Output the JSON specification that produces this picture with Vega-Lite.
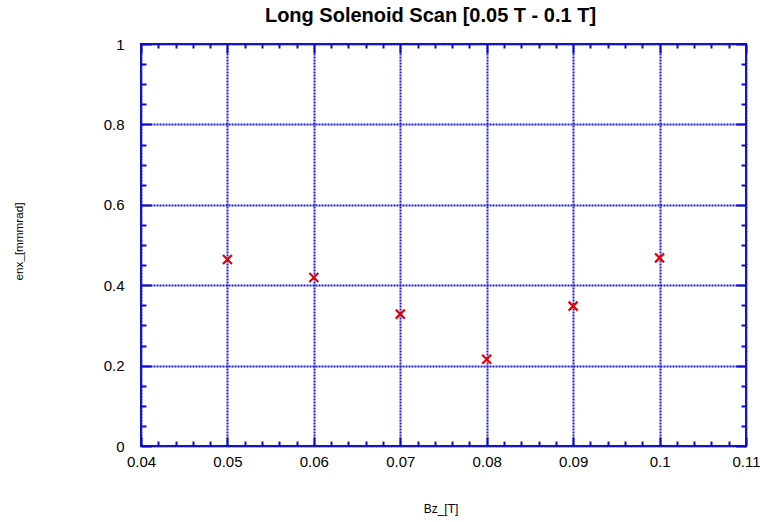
{
  "$schema": "https://vega.github.io/schema/vega-lite/v6.json",
  "width": 605,
  "height": 402,
  "autosize": "none",
  "padding": {"left": 141, "top": 44, "right": 14, "bottom": 76},
  "background": "white",
  "title": {
    "text": "Long Solenoid Scan [0.05 T - 0.1 T]",
    "font": "Liberation Sans",
    "fontSize": 20,
    "fontWeight": "bold",
    "color": "black",
    "anchor": "middle",
    "offset": 11,
    "dx": -13
  },
  "config": {
    "view": {"stroke": "#0a0acc", "strokeWidth": 2},
    "axis": {
      "labelFont": "Liberation Sans",
      "titleFont": "Liberation Sans",
      "labelColor": "black",
      "titleColor": "black",
      "titleFontWeight": "normal",
      "labelFlush": false,
      "domain": false,
      "tickColor": "#0a0acc",
      "tickWidth": 2,
      "gridColor": "#1c1cd4",
      "gridOpacity": 1,
      "gridWidth": 2,
      "gridDash": [2, 1]
    }
  },
  "data": {
    "values": [
      {"Bz": 0.05, "enx": 0.464},
      {"Bz": 0.06, "enx": 0.419},
      {"Bz": 0.07, "enx": 0.328},
      {"Bz": 0.08, "enx": 0.216},
      {"Bz": 0.09, "enx": 0.348},
      {"Bz": 0.1, "enx": 0.468}
    ]
  },
  "layer": [
    {
      "mark": {"type": "point", "opacity": 0},
      "encoding": {
        "x": {"field": "Bz", "type": "quantitative", "scale": {"domain": [0.04, 0.11], "nice": false, "zero": false},
          "axis": {"orient": "top", "labels": false, "title": null, "grid": false, "tickSize": -9,
            "values": [0.04, 0.05, 0.06, 0.07, 0.08, 0.09, 0.1, 0.11]}},
        "y": {"field": "enx", "type": "quantitative", "scale": {"domain": [0, 1], "nice": false},
          "axis": {"orient": "right", "labels": false, "title": null, "grid": false, "tickSize": -10,
            "values": [0, 0.2, 0.4, 0.6, 0.8, 1]}}
      }
    },
    {
      "mark": {"type": "point", "opacity": 0},
      "encoding": {
        "x": {"field": "Bz", "type": "quantitative", "scale": {"domain": [0.04, 0.11], "nice": false, "zero": false},
          "axis": {"orient": "bottom", "labels": false, "title": null, "grid": false, "tickSize": -9,
            "values": [0.04, 0.05, 0.06, 0.07, 0.08, 0.09, 0.1, 0.11]}},
        "y": {"field": "enx", "type": "quantitative", "scale": {"domain": [0, 1], "nice": false},
          "axis": {"orient": "left", "labels": false, "title": null, "grid": false, "tickSize": -10,
            "values": [0, 0.2, 0.4, 0.6, 0.8, 1]}}
      }
    },
    {
      "mark": {"type": "point", "opacity": 0},
      "encoding": {
        "x": {"field": "Bz", "type": "quantitative", "scale": {"domain": [0.04, 0.11], "nice": false, "zero": false},
          "axis": {"orient": "bottom", "labels": false, "title": null, "grid": false, "tickSize": -5,
            "values": [0.042, 0.044, 0.046, 0.048, 0.052, 0.054, 0.056, 0.058, 0.062, 0.064, 0.066, 0.068, 0.072, 0.074, 0.076, 0.078, 0.082, 0.084, 0.086, 0.088, 0.092, 0.094, 0.096, 0.098, 0.102, 0.104, 0.106, 0.108]}},
        "y": {"field": "enx", "type": "quantitative", "scale": {"domain": [0, 1], "nice": false},
          "axis": {"orient": "left", "labels": false, "title": null, "grid": false, "tickSize": -5,
            "values": [0.05, 0.1, 0.15, 0.25, 0.3, 0.35, 0.45, 0.5, 0.55, 0.65, 0.7, 0.75, 0.85, 0.9, 0.95]}}
      }
    },
    {
      "mark": {"type": "point", "opacity": 0},
      "encoding": {
        "x": {"field": "Bz", "type": "quantitative", "scale": {"domain": [0.04, 0.11], "nice": false, "zero": false},
          "axis": {"orient": "top", "labels": false, "title": null, "grid": false, "tickSize": -4,
            "values": [0.042, 0.044, 0.046, 0.048, 0.052, 0.054, 0.056, 0.058, 0.062, 0.064, 0.066, 0.068, 0.072, 0.074, 0.076, 0.078, 0.082, 0.084, 0.086, 0.088, 0.092, 0.094, 0.096, 0.098, 0.102, 0.104, 0.106, 0.108]}},
        "y": {"field": "enx", "type": "quantitative", "scale": {"domain": [0, 1], "nice": false},
          "axis": {"orient": "right", "labels": false, "title": null, "grid": false, "tickSize": -5,
            "values": [0.05, 0.1, 0.15, 0.25, 0.3, 0.35, 0.45, 0.5, 0.55, 0.65, 0.7, 0.75, 0.85, 0.9, 0.95]}}
      }
    },
    {
      "mark": {"type": "point", "shape": "M-1,-1L1,1M1,-1L-1,1", "filled": false, "color": "#e0000c", "strokeWidth": 2.2, "size": 81, "opacity": 1},
      "encoding": {
        "x": {"field": "Bz", "type": "quantitative", "scale": {"domain": [0.04, 0.11], "nice": false, "zero": false},
          "axis": {"orient": "bottom", "title": "Bz_[T]", "titleFontSize": 12, "titleX": 299.5, "titleY": 62, "titleBaseline": "middle",
            "labelFontSize": 15, "labelPadding": 8, "ticks": false, "grid": true, "format": "~g",
            "values": [0.04, 0.05, 0.06, 0.07, 0.08, 0.09, 0.1, 0.11]}},
        "y": {"field": "enx", "type": "quantitative", "scale": {"domain": [0, 1], "nice": false},
          "axis": {"orient": "left", "title": "enx_[mmmrad]", "titleFontSize": 11.7, "titleX": -123, "titleY": 197, "titleAngle": -90, "titleAlign": "center", "titleBaseline": "middle",
            "labelFontSize": 15, "labelPadding": 17, "ticks": false, "grid": true, "format": "~g",
            "values": [0, 0.2, 0.4, 0.6, 0.8, 1]}}
      }
    }
  ],
  "resolve": {"axis": {"x": "independent", "y": "independent"}}
}
